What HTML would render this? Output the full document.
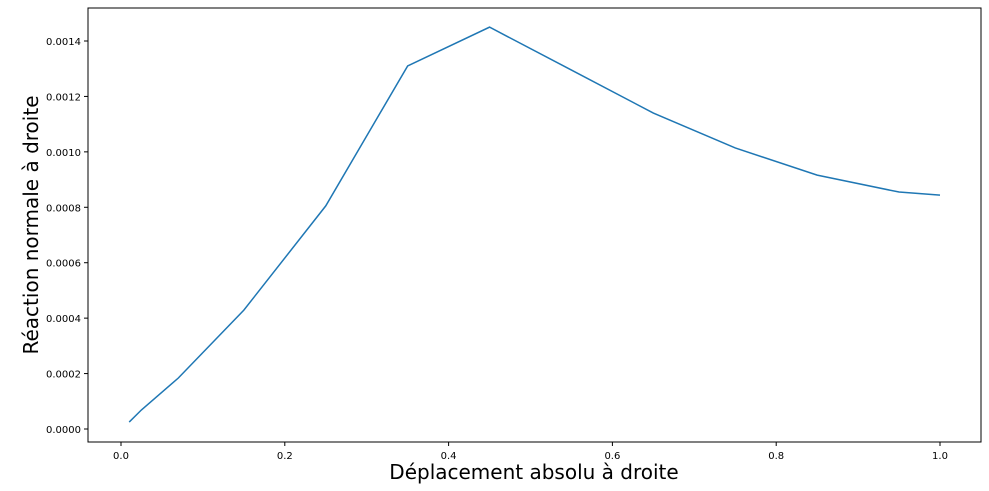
<!DOCTYPE html>
<html><head><meta charset="utf-8"><style>
body{margin:0;background:#fff;font-family:"DejaVu Sans","Liberation Sans",sans-serif}
svg text{font-family:"DejaVu Sans","Liberation Sans",sans-serif}
</style></head><body>
<svg id="chart" width="989" height="487" xmlns="http://www.w3.org/2000/svg"></svg>
<script>
const xValues=[0.01,0.025,0.07,0.15,0.25,0.35,0.45,0.55,0.65,0.75,0.85,0.95,1.0];
const yValues=[0.000025,0.000069,0.000184,0.000429,0.000805,0.00131,0.00145,0.001295,0.00114,0.001014,0.000916,0.000855,0.000844];
const xTicks=[0,0.2,0.4,0.6,0.8,1.0];
const xTickLabels=["0.0","0.2","0.4","0.6","0.8","1.0"];
const yTicks=[0,0.0002,0.0004,0.0006,0.0008,0.0010,0.0012,0.0014];
const yTickLabels=["0.0000","0.0002","0.0004","0.0006","0.0008","0.0010","0.0012","0.0014"];
const NS="http://www.w3.org/2000/svg";
const svg=document.getElementById('chart');
const L=88,R=981,T=8,B=442;
const sx=v=>121+v*819;
const sy=v=>429-v/0.0014*388;
function mk(t,a,p){const e=document.createElementNS(NS,t);for(const k in a)e.setAttribute(k,a[k]);(p||svg).appendChild(e);return e;}
const frame=mk('rect',{x:L,y:T,width:R-L,height:B-T,fill:'none',stroke:'#000','stroke-width':1});


xTicks.forEach((v,i)=>{
 const g=mk('g',{});
 
 
 mk('line',{x1:sx(v),x2:sx(v),y1:B,y2:B+4,stroke:'#000'},g);
 const t=mk('text',{x:sx(v),y:B+17,'font-size':10,'text-anchor':'middle'},g);t.textContent=xTickLabels[i];
});
yTicks.forEach((v,i)=>{
 const g=mk('g',{});
 
 
 mk('line',{x1:L-4,x2:L,y1:sy(v),y2:sy(v),stroke:'#000'},g);
 const t=mk('text',{x:L-7,y:sy(v)+4,'font-size':10,'text-anchor':'end'},g);t.textContent=yTickLabels[i];
});
const line=mk('polyline',{points:xValues.map((x,i)=>sx(x)+','+sy(yValues[i])).join(' '),fill:'none',stroke:'#1f77b4','stroke-width':1.5});


const xl=mk('text',{x:534,y:479,'font-size':20,'text-anchor':'middle'});xl.textContent='Déplacement absolu à droite';


const yl=mk('text',{x:38,y:225,'font-size':20,'text-anchor':'middle',transform:'rotate(-90 38 225)'});yl.textContent='Réaction normale à droite';


</script>
</body></html>
